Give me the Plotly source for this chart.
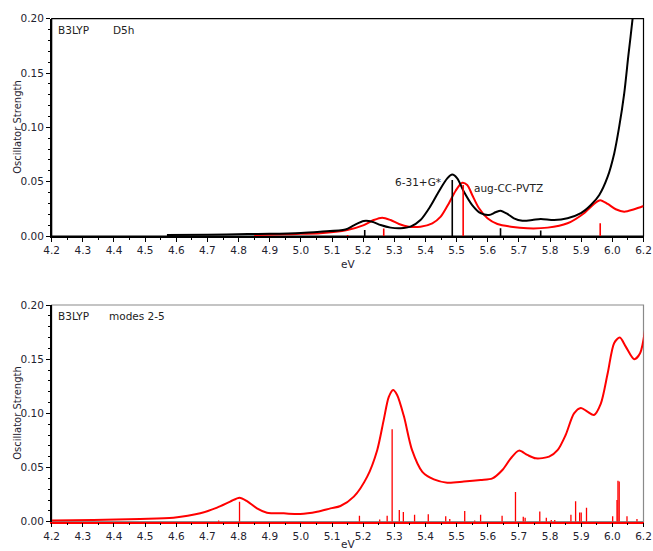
import numpy as np
import plotly.graph_objects as go
from plotly.subplots import make_subplots

# ---- Top panel: B3LYP, D5h, two basis sets ----
ev_631 = [4.57, 4.70, 4.83, 4.90, 5.00, 5.062, 5.143, 5.170, 5.202, 5.229, 5.256, 5.288, 5.320,
          5.352, 5.384, 5.415, 5.443, 5.470, 5.486, 5.502, 5.523, 5.550, 5.577, 5.604, 5.625,
          5.641, 5.663, 5.684, 5.711, 5.743, 5.770, 5.813, 5.856, 5.899, 5.931, 5.958, 5.985,
          6.006, 6.022, 6.038, 6.051, 6.065, 6.080, 6.100]
osc_631 = [0.001, 0.0012, 0.0018, 0.002, 0.0028, 0.004, 0.006, 0.0098, 0.0138, 0.0132, 0.0101,
           0.0077, 0.0071, 0.0086, 0.0147, 0.027, 0.041, 0.053, 0.0565, 0.053, 0.041, 0.0285,
           0.021, 0.0193, 0.0218, 0.0233, 0.0203, 0.0163, 0.0141, 0.0147, 0.0157, 0.0147, 0.0163,
           0.021, 0.0285, 0.0378, 0.0546, 0.076, 0.1006, 0.131, 0.165, 0.200, 0.245, 0.31]

ev_aug = [4.85, 4.95, 5.00, 5.062, 5.149, 5.202, 5.234, 5.261, 5.288, 5.315, 5.347, 5.384,
          5.422, 5.449, 5.475, 5.497, 5.518, 5.534, 5.550, 5.572, 5.599, 5.631, 5.674, 5.727,
          5.792, 5.856, 5.909, 5.941, 5.961, 5.985, 6.011, 6.038, 6.070, 6.100]
osc_aug = [0.001, 0.0015, 0.002, 0.0025, 0.0055, 0.010, 0.0147, 0.0169, 0.0147, 0.011, 0.0086,
           0.0086, 0.0117, 0.0178, 0.030, 0.0417, 0.049, 0.047, 0.0378, 0.0255, 0.0163, 0.011,
           0.0086, 0.0071, 0.0077, 0.0117, 0.021, 0.0295, 0.033, 0.0295, 0.0246, 0.0224, 0.0246,
           0.0276]

stick_ev_631 = [5.205, 5.486, 5.641, 5.770]
stick_f_631 = [0.0055, 0.0516, 0.0071, 0.005]
stick_ev_aug = [5.150, 5.266, 5.521, 5.961]
stick_f_aug = [0.001, 0.007, 0.047, 0.0117]

# ---- Bottom panel: B3LYP, modes 2-5 ----
ev_modes = [4.20, 4.334, 4.484, 4.591, 4.677, 4.731, 4.773, 4.803, 4.827, 4.859, 4.891, 4.945,
            4.998, 5.052, 5.095, 5.127, 5.170, 5.213, 5.245, 5.266, 5.282, 5.296, 5.309, 5.331,
            5.357, 5.390, 5.427, 5.470, 5.523, 5.577, 5.615, 5.647, 5.674, 5.700, 5.727, 5.754,
            5.797, 5.824, 5.850, 5.877, 5.899, 5.920, 5.941, 5.963, 5.985, 6.006, 6.024, 6.043,
            6.070, 6.089, 6.108]
osc_modes = [0.001, 0.0015, 0.0025, 0.0037, 0.0078, 0.013, 0.0185, 0.0222, 0.019, 0.0123,
             0.0083, 0.0077, 0.0071, 0.0092, 0.0123, 0.0145, 0.0231, 0.0416, 0.066, 0.094, 0.115,
             0.1216, 0.117, 0.097, 0.066, 0.046, 0.039, 0.036, 0.037, 0.0385, 0.040, 0.0477,
             0.0585, 0.0656, 0.0616, 0.0585, 0.060, 0.066, 0.080, 0.100, 0.105, 0.1016, 0.0985,
             0.109, 0.137, 0.165, 0.170, 0.1616, 0.150, 0.1555, 0.183]

stick_ev_modes = [4.736, 4.803, 5.188, 5.253, 5.277, 5.293, 5.316, 5.329, 5.365, 5.409, 5.465,
                  5.478, 5.526, 5.558, 5.577, 5.646, 5.689, 5.714, 5.720, 5.767, 5.788, 5.804,
                  5.815, 5.867, 5.882, 5.895, 5.900, 5.917, 6.001, 6.015, 6.018, 6.022, 6.047,
                  6.079]
stick_f_modes = [0.001, 0.0185, 0.0055, 0.002, 0.0055, 0.0853, 0.0108, 0.009, 0.0065, 0.0068,
                 0.005, 0.0025, 0.0099, 0.001, 0.0065, 0.0055, 0.0274, 0.0046, 0.0037, 0.0095,
                 0.0037, 0.0015, 0.0015, 0.0065, 0.0188, 0.0086, 0.0086, 0.0129, 0.005, 0.020,
                 0.0379, 0.0371, 0.005, 0.0025]

# Axis ticks: 4.2 ... 6.0 every 0.1, the closing tick carries the "6.2" label
x_tickvals = [round(4.2 + 0.1 * i, 1) for i in range(20)]
x_ticktext = [f"{v:.1f}" for v in x_tickvals[:-1]] + ["6.2"]
y_tickvals = [0.0, 0.05, 0.10, 0.15, 0.20]
y_ticktext = ["0.00", "0.05", "0.10", "0.15", "0.20"]

RED = "#ff0000"
FONT = "DejaVu Sans"
TEXT_COLOR = "#1f2330"
TICKFONT = dict(family=FONT, size=10.5, color=TEXT_COLOR)


def sticks(ev, f):
    xs, ys = [], []
    for e, v in zip(ev, f):
        xs += [e, e, None]
        ys += [0, v, None]
    return xs, ys


fig = make_subplots(rows=2, cols=1)

curve = dict(width=2, shape="spline", smoothing=0.8)

# top panel
fig.add_trace(go.Scatter(x=ev_aug, y=osc_aug, mode="lines", line=dict(curve, color=RED),
                         showlegend=False), row=1, col=1)
fig.add_trace(go.Scatter(x=ev_631, y=osc_631, mode="lines", line=dict(curve, color="black"),
                         showlegend=False), row=1, col=1)
sx, sy = sticks(stick_ev_631, stick_f_631)
fig.add_trace(go.Scatter(x=sx, y=sy, mode="lines", line=dict(color="black", width=1.6), showlegend=False), row=1, col=1)
sx, sy = sticks(stick_ev_aug, stick_f_aug)
fig.add_trace(go.Scatter(x=sx, y=sy, mode="lines", line=dict(color=RED, width=1.6), showlegend=False), row=1, col=1)

# bottom panel
fig.add_trace(go.Scatter(x=ev_modes, y=osc_modes, mode="lines", line=dict(curve, color=RED),
                         showlegend=False), row=2, col=1)
sx, sy = sticks(stick_ev_modes, stick_f_modes)
fig.add_trace(go.Scatter(x=sx, y=sy, mode="lines", line=dict(color=RED, width=1.3), showlegend=False), row=2, col=1)

W, H = 653, 551
x_dom = [51.7 / W, 643.5 / W]
top_dom = [(H - 236.0) / H, (H - 18.7) / H]
bot_dom = [(H - 521.7) / H, (H - 305.0) / H]

xaxis_common = dict(range=[4.2, 6.1], domain=x_dom, tickmode="array", tickvals=x_tickvals, ticktext=x_ticktext,
                    ticks="outside", ticklen=4, tickwidth=1, tickcolor="black", showgrid=False, zeroline=False,
                    showline=True, linewidth=1.5, tickfont=TICKFONT, automargin=False,
                    minor=dict(tickvals=[round(4.25 + 0.1 * i, 2) for i in range(19)], ticks="outside",
                               ticklen=2, tickcolor="black", showgrid=False))
yaxis_common = dict(range=[0, 0.2], tickmode="array", tickvals=y_tickvals, ticktext=y_ticktext,
                    ticks="outside", ticklen=4, tickwidth=1, tickcolor="black", showgrid=False, zeroline=False,
                    showline=True, linewidth=1.5, linecolor="black", tickfont=TICKFONT, automargin=False,
                    minor=dict(tickvals=[round(0.01 * i, 2) for i in range(21) if i % 5], ticks="outside",
                               ticklen=2, tickcolor="black", showgrid=False))

fig.update_layout(
    width=W, height=H, margin=dict(l=0, r=0, t=0, b=0, autoexpand=False),
    paper_bgcolor="white", plot_bgcolor="white",
    xaxis=dict(xaxis_common, linecolor="black"),
    xaxis2=dict(xaxis_common, linecolor=RED),
    yaxis=dict(yaxis_common, domain=top_dom),
    yaxis2=dict(yaxis_common, domain=bot_dom),
    font=dict(family=FONT, size=10, color=TEXT_COLOR),
)

# plot frames (top and right edges)
fig.add_shape(type="rect", xref="x domain", yref="y domain", x0=0, x1=1, y0=0, y1=1,
              line=dict(color="black", width=1.2), layer="below")
fig.add_shape(type="rect", xref="x2 domain", yref="y2 domain", x0=0, x1=1, y0=0, y1=1,
              line=dict(color="#8a8a8a", width=1.2), layer="below")

ann_font = dict(family=FONT, size=10.5, color="#222222")
for row_ref, tag in (("", "D5h"), ("2", "modes 2-5")):
    fig.add_annotation(xref=f"x{row_ref} domain", yref=f"y{row_ref} domain", x=0.008, y=0.95, text="B3LYP",
                       showarrow=False, xanchor="left", yanchor="middle", font=ann_font)
    fig.add_annotation(xref=f"x{row_ref} domain", yref=f"y{row_ref} domain", x=0.101 if tag == "D5h" else 0.093,
                       y=0.95, text=tag, showarrow=False, xanchor="left", yanchor="middle", font=ann_font)
    # axis titles
    dom = top_dom if row_ref == "" else bot_dom
    fig.add_annotation(xref="paper", yref="paper", x=17.5 / W, y=(dom[0] + dom[1]) / 2, text="Oscillator Strength",
                       textangle=-90, showarrow=False, xanchor="center", yanchor="middle",
                       font=dict(family=FONT, size=10, color=TEXT_COLOR))
    fig.add_annotation(xref="paper", yref="paper", x=348 / W,
                       y=dom[0] - (28 if row_ref == "" else 22) / H, text="eV",
                       showarrow=False, xanchor="center", yanchor="middle",
                       font=dict(family=FONT, size=10.5, color=TEXT_COLOR))

# basis set labels
fig.add_annotation(xref="x", yref="y", x=5.456, y=0.0495, text="6-31+G*", showarrow=False,
                   xanchor="right", yanchor="middle", font=ann_font)
fig.add_annotation(xref="x", yref="y", x=5.550, y=0.0445, text="aug-CC-PVTZ", showarrow=False,
                   xanchor="left", yanchor="middle", font=ann_font)

fig.write_html("out.html")
